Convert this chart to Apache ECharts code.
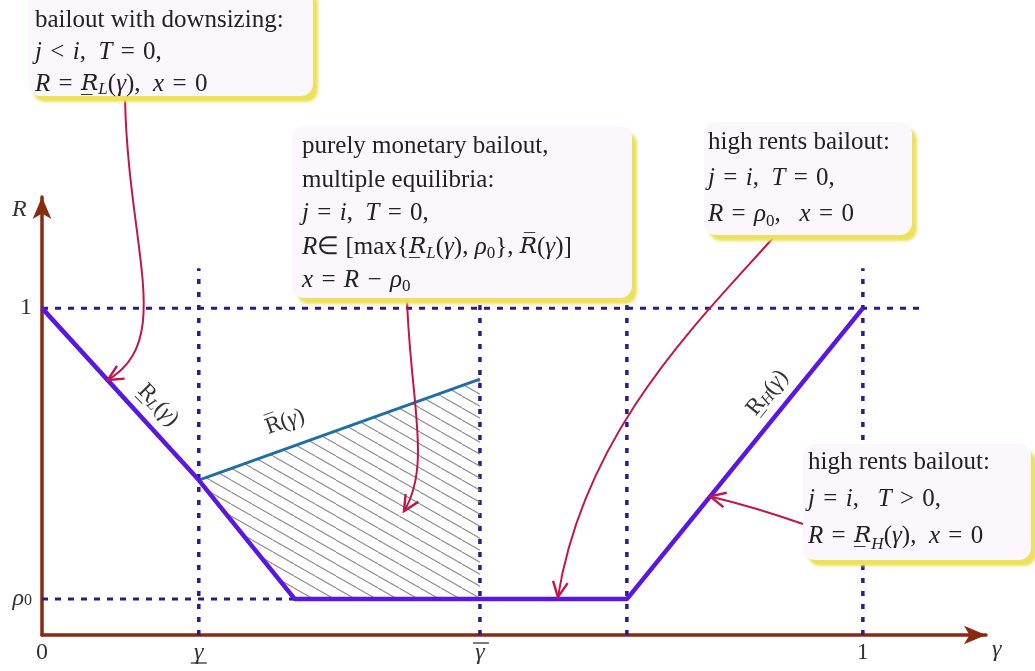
<!DOCTYPE html>
<html>
<head>
<meta charset="utf-8">
<title>bailout regimes</title>
<script src="https://cdn.jsdelivr.net/npm/echarts@6/dist/echarts.min.js"></script>
<style>
html, body { margin: 0; padding: 0; background: #fff; }
#chart { width: 1035px; height: 671px; }
</style>
</head>
<body>
<div id="chart"></div>
<script>
// thresholds
var gammaLow = 0.191, gammaKink = 0.308, gammaHigh = 0.5335, gammaRight = 0.7125;
var rho0 = 0.11;
var guideTop = 1.122;

var xTickValues = [0, gammaLow, gammaHigh, 1];
var xTickLabels = ['0', '{i|\u03b3}', '{i|\u03b3}', '1'];
var yTickValues = [rho0, 1];
var yTickLabels = ['{i|\u03c1}{s|0}', '1'];

// the bailout rate R(gamma): R_L, flat rho0 part, R_H
var rPath = [[0, 1], [gammaLow, 0.474], [gammaKink, rho0], [gammaRight, rho0], [1, 1]];
// upper bound Rbar(gamma)
var rBar = [[gammaLow, 0.474], [gammaHigh, 0.783]];
// multiple-equilibria region
var hatchArea = [[gammaLow, 0.474], [gammaHigh, 0.783], [gammaHigh, rho0], [gammaKink, rho0]];
// dashed guides
var guideVerticals = [gammaLow, gammaHigh, gammaRight, 1];
var guideHorizontals = [[[0, 1], [1.069, 1]], [[0, rho0], [gammaKink, rho0]]];

var FONT = 'Liberation Serif';
var MARKFONT = 'DejaVu Serif';
var AXIS = '#8b2a12';
var GUIDE = '#2b1a88';
var ARROW = '#c2154c';
var SP = '\u2004';

var chart = echarts.init(document.getElementById('chart'));

var hatchCanvas = document.createElement('canvas');
hatchCanvas.width = 21;
hatchCanvas.height = 12;
(function () {
    var ctx = hatchCanvas.getContext('2d');
    ctx.strokeStyle = '#8e8e8e';
    ctx.lineWidth = 1.1;
    for (var k = -1; k <= 1; k++) {
        ctx.beginPath();
        ctx.moveTo(k * 21, 0);
        ctx.lineTo(k * 21 + 21, 12);
        ctx.stroke();
    }
})();

// rich styles for the math bits, one set per font size
function mathRich(size) {
    var sub = Math.round(size * 0.68);
    return {
        i: { fontSize: size, fontStyle: 'italic', fontFamily: FONT },
        n: { fontSize: size, fontFamily: FONT },
        u: { fontSize: size - 2, fontStyle: 'italic', fontFamily: MARKFONT },
        un: { fontSize: size - 2, fontFamily: MARKFONT },
        s: { fontSize: sub, lineHeight: sub + 2, verticalAlign: 'bottom', fontFamily: FONT, padding: [0, 0, 2, 0] },
        si: { fontSize: sub, lineHeight: sub + 2, verticalAlign: 'bottom', fontStyle: 'italic', fontFamily: FONT, padding: [0, 0, 2, 0] }
    };
}

function pickLabel(values, labels, v) {
    for (var i = 0; i < values.length; i++) {
        if (Math.abs(values[i] - v) < 1e-6) return labels[i];
    }
    return '';
}

function eq(a, op, b) { return a + SP + op + SP + b; }

var series = [];
guideVerticals.forEach(function (gx) {
    series.push({
        type: 'line', data: [[gx, 0], [gx, guideTop]], showSymbol: false, silent: true, z: 1,
        lineStyle: { color: GUIDE, width: 3.5, type: [5, 8] }
    });
});
guideHorizontals.forEach(function (seg) {
    series.push({
        type: 'line', data: seg, showSymbol: false, silent: true, z: 1,
        lineStyle: { color: GUIDE, width: 3, type: [6, 7] }
    });
});
series.push({
    type: 'custom',
    data: [0],
    z: 2,
    renderItem: function (params, api) {
        var pts = hatchArea.map(function (p) { return api.coord(p); });
        return {
            type: 'polygon',
            shape: { points: pts },
            style: { fill: { image: hatchCanvas, repeat: 'repeat' }, stroke: null }
        };
    }
});
series.push({
    type: 'line', data: rBar, showSymbol: false, z: 3,
    lineStyle: { color: '#1f6ea6', width: 3 }
});
series.push({
    type: 'line', data: rPath, showSymbol: false, z: 4,
    lineStyle: { color: '#5a16e2', width: 4.5 }
});

chart.setOption({
    animation: false,
    grid: { left: 42, right: 49, top: 197, bottom: 36 },
    xAxis: {
        type: 'value', min: 0, max: 1.15,
        splitLine: { show: false },
        axisTick: { show: false },
        axisLine: { symbol: ['none', 'arrow'], symbolSize: [14, 22], lineStyle: { color: AXIS, width: 3.5 } },
        axisLabel: {
            customValues: xTickValues,
            margin: 6,
            fontSize: 24, fontFamily: FONT, color: '#333',
            rich: mathRich(24),
            formatter: function (v) { return pickLabel(xTickValues, xTickLabels, v); }
        }
    },
    yAxis: {
        type: 'value', min: 0, max: 1.34,
        splitLine: { show: false },
        axisTick: { show: false },
        axisLine: { symbol: ['none', 'arrow'], symbolSize: [14, 22], lineStyle: { color: AXIS, width: 3.5 } },
        axisLabel: {
            customValues: yTickValues,
            margin: 10,
            fontSize: 24, fontFamily: FONT, color: '#333',
            rich: mathRich(24),
            formatter: function (v) { return pickLabel(yTickValues, yTickLabels, v); }
        }
    },
    series: series
});

// annotation boxes (pixel layout)
var boxes = [
    { x: 28, y: -14, w: 285, h: 110, tx: 35, ty: 4, lh: 32,
      text: 'bailout with downsizing:\n' +
            eq('{i|j}', '<', '{i|i}') + ',  ' + eq('{i|T}', '=', '0') + ',\n' +
            eq('{i|R}', '=', '{u|R\u0332}{si|L}({i|\u03b3})') + ',  ' + eq('{i|x}', '=', '0') },
    { x: 292, y: 126, w: 340, h: 172, tx: 302, ty: 130, lh: 33.5,
      text: 'purely monetary bailout,\nmultiple equilibria:\n' +
            eq('{i|j}', '=', '{i|i}') + ',  ' + eq('{i|T}', '=', '0') + ',\n' +
            '{i|R}\u2208 [max{{u|R\u0332}{si|L}({i|\u03b3}), {i|\u03c1}{s|0}}, {u|R\u0305}({i|\u03b3})]\n' +
            eq('{i|x}', '=', '{i|R}') + SP + '\u2212' + SP + '{i|\u03c1}{s|0}' },
    { x: 704, y: 122, w: 208, h: 113, tx: 708, ty: 124, lh: 36,
      text: 'high rents bailout:\n' +
            eq('{i|j}', '=', '{i|i}') + ',  ' + eq('{i|T}', '=', '0') + ',\n' +
            eq('{i|R}', '=', '{i|\u03c1}{s|0}') + ',   ' + eq('{i|x}', '=', '0') },
    { x: 803, y: 444, w: 228, h: 116, tx: 808, ty: 444, lh: 37,
      text: 'high rents bailout:\n' +
            eq('{i|j}', '=', '{i|i}') + ',   ' + eq('{i|T}', '>', '0') + ',\n' +
            eq('{i|R}', '=', '{u|R\u0332}{si|H}({i|\u03b3})') + ',  ' + eq('{i|x}', '=', '0') }
];

// arrows: start and control points in pixels, tip on the data
var arrows = [
    { p0: [125, 98], c1: [128, 250], c2: [175, 340], tip: [0.08, 0.78] },
    { p0: [407, 298], c1: [410, 400], c2: [432, 465], tip: [0.441, 0.379] },
    { p0: [773, 238], c1: [700, 320], c2: [585, 430], tip: [0.6285, rho0 + 0.006] },
    { p0: [803, 524], c1: [755, 507], tip: [0.814, 0.424] }
];

// labels along the lines
var lineLabels = [
    { at: [0.141, 0.703], rot: -0.80, text: '{un|R\u0332}{si|L}({i|\u03b3})' },
    { at: [0.296, 0.651], rot: 0.35, text: '{un|R\u0305}({i|\u03b3})' },
    { at: [0.884, 0.740], rot: 0.89, text: '{un|R\u0332}{si|H}({i|\u03b3})' }
];

function arrowHead(tip, from, len, ang) {
    var dx = tip[0] - from[0], dy = tip[1] - from[1];
    var d = Math.sqrt(dx * dx + dy * dy);
    dx /= d; dy /= d;
    function barb(a) {
        var c = Math.cos(a), s = Math.sin(a);
        return [tip[0] - len * (dx * c - dy * s), tip[1] - len * (dx * s + dy * c)];
    }
    return {
        type: 'polyline', z: 99,
        shape: { points: [barb(ang), tip, barb(-ang)] },
        style: { stroke: ARROW, lineWidth: 2.4, fill: null }
    };
}

function buildGraphic() {
    var els = [];
    arrows.forEach(function (a) {
        var tip = chart.convertToPixel({ gridIndex: 0 }, a.tip);
        var shape = { x1: a.p0[0], y1: a.p0[1], x2: tip[0], y2: tip[1], cpx1: a.c1[0], cpy1: a.c1[1] };
        if (a.c2) { shape.cpx2 = a.c2[0]; shape.cpy2 = a.c2[1]; }
        els.push({ type: 'bezierCurve', z: 99, shape: shape, style: { stroke: ARROW, lineWidth: 2, fill: null } });
        els.push(arrowHead(tip, a.c2 || a.c1, 17, 0.45));
    });
    boxes.forEach(function (b) {
        els.push({
            type: 'rect', z: 100,
            shape: { x: b.x, y: b.y, width: b.w, height: b.h, r: 12 },
            style: { fill: '#fcf6fd', shadowColor: '#ede05a', shadowBlur: 3, shadowOffsetX: 5, shadowOffsetY: 6 }
        });
        els.push({
            type: 'text', z: 101, x: b.tx, y: b.ty,
            style: {
                text: b.text, rich: mathRich(25), fontFamily: FONT, fontSize: 25,
                lineHeight: b.lh, fill: '#222', verticalAlign: 'top', align: 'left'
            }
        });
    });
    lineLabels.forEach(function (l) {
        var p = chart.convertToPixel({ gridIndex: 0 }, l.at);
        els.push({
            type: 'text', z: 50, x: p[0], y: p[1], rotation: l.rot,
            style: {
                text: l.text, rich: mathRich(23), fontFamily: FONT, fontSize: 23,
                lineHeight: 28, fill: '#333', align: 'center', verticalAlign: 'middle'
            }
        });
    });
    // under- and overline on the two gamma thresholds
    var pLow = chart.convertToPixel({ gridIndex: 0 }, [gammaLow, 0]);
    var pHigh = chart.convertToPixel({ gridIndex: 0 }, [gammaHigh, 0]);
    els.push({ type: 'line', z: 50, shape: { x1: pLow[0] - 8, y1: pLow[1] + 28, x2: pLow[0] + 8, y2: pLow[1] + 28 }, style: { stroke: '#333', lineWidth: 1.3 } });
    els.push({ type: 'line', z: 50, shape: { x1: pHigh[0] - 7, y1: pHigh[1] + 8, x2: pHigh[0] + 9, y2: pHigh[1] + 8 }, style: { stroke: '#333', lineWidth: 1.3 } });
    // axis names
    els.push({ type: 'text', z: 50, x: 12, y: 198, style: { text: 'R', fontFamily: FONT, fontStyle: 'italic', fontSize: 24, fill: '#333' } });
    els.push({ type: 'text', z: 50, x: 992, y: 638, style: { text: '\u03b3', fontFamily: FONT, fontStyle: 'italic', fontSize: 24, fill: '#333' } });
    return els;
}

chart.setOption({ graphic: buildGraphic() });
</script>
</body>
</html>
